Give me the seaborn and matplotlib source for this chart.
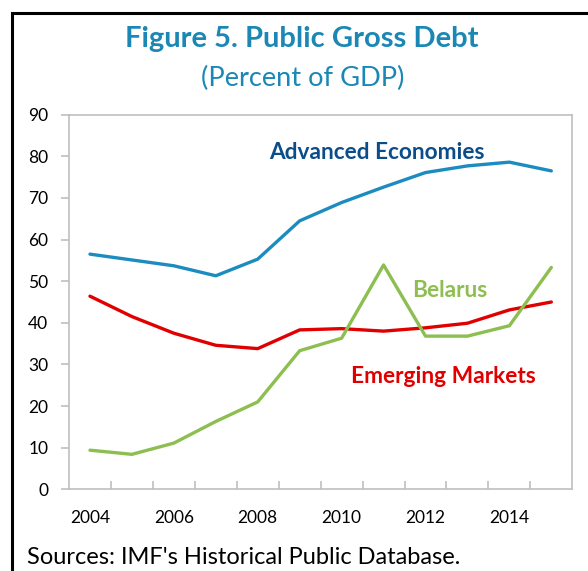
import matplotlib
matplotlib.use("Agg")
import matplotlib.pyplot as plt
import matplotlib.patches as mpatches
import seaborn as sns
import pandas as pd
import numpy as np

years = list(range(2004, 2016))
advanced = [56.5, 55.1, 53.7, 51.3, 55.3, 64.5, 68.9, 72.6, 76.1, 77.7, 78.6, 76.5]
emerging = [46.4, 41.5, 37.5, 34.6, 33.8, 38.3, 38.6, 38.0, 38.8, 39.9, 43.1, 45.0]
belarus = [9.4, 8.4, 11.1, 16.3, 21.0, 33.3, 36.3, 53.9, 36.8, 36.8, 39.3, 53.3]
series_names = ["Advanced Economies", "Emerging Markets", "Belarus"]
x_labels = ["2004", "2006", "2008", "2010", "2012", "2014"]
y_ticks = [0, 10, 20, 30, 40, 50, 60, 70, 80, 90]

line_colors = {"Advanced Economies": "#1c8cc0", "Emerging Markets": "#e00000", "Belarus": "#8dbe50"}
label_colors = {"Advanced Economies": "#0b4d8a", "Emerging Markets": "#e00000", "Belarus": "#8dbe50"}

df = pd.DataFrame({
    "year": years * 3,
    "value": advanced + emerging + belarus,
    "series": [s for s in series_names for _ in years],
})

sns.set_theme(style="white")
plt.rcParams["font.family"] = ["Lato", "DejaVu Sans"]

fig = plt.figure(figsize=(5.88, 5.71), dpi=100)
ax = fig.add_axes([69/588, 1-489.3/571, (572.3-69)/588, (489.3-114.7)/571])

sns.lineplot(data=df, x="year", y="value", hue="series", palette=line_colors,
             linewidth=2.4, ax=ax, legend=False, sort=False)

ax.set_xlim(2003.5, 2015.5)
ax.set_ylim(0, 90)
ax.set_xticks([int(v) for v in x_labels])
ax.set_xticklabels(x_labels)
ax.set_xticks(np.arange(2004.5, 2015.0, 1.0), minor=True)
ax.set_yticks(y_ticks)
ax.set_yticklabels([str(v) for v in y_ticks])
ax.set_xlabel("")
ax.set_ylabel("")

grey = "#bfbfbf"
for sp in ax.spines.values():
    sp.set_color(grey)
    sp.set_linewidth(1.2)
    sp.set_visible(True)
ax.tick_params(axis="x", which="major", length=0, pad=15, labelsize=12.5, labelcolor="#000000")
ax.tick_params(axis="x", which="minor", direction="in", length=6, width=1.2, color=grey, bottom=True)
ax.tick_params(axis="y", which="major", direction="out", length=6, width=1.2, color=grey, left=True,
               pad=9, labelsize=12.5, labelcolor="#000000")

# series labels
ax.text(2010.83, 80.9, "Advanced Economies", color=label_colors["Advanced Economies"],
        fontsize=16.3, fontweight="bold", ha="center", va="center")
ax.text(2012.58, 47.7, "Belarus", color=label_colors["Belarus"],
        fontsize=16.3, fontweight="bold", ha="center", va="center")
ax.text(2012.43, 27.0, "Emerging Markets", color=label_colors["Emerging Markets"],
        fontsize=16.4, fontweight="bold", ha="center", va="center")

# titles
fig.text(302/588, 1-39/571, "Figure 5. Public Gross Debt", color="#1a87b5",
         fontsize=21, fontweight="bold", ha="center", va="center")
fig.text(303/588, 1-78/571, "(Percent of GDP)", color="#1a87b5",
         fontsize=19.6, ha="center", va="center")
fig.text(27/588, 1-557/571, "Sources: IMF's Historical Public Database.", color="#000000",
         fontsize=17, ha="left", va="center")

# outer frame (cut off at right and bottom)
frame = mpatches.Rectangle((12/588, -0.1), 1.2, 1 - 13/571 + 0.1, transform=fig.transFigure,
                           fill=False, edgecolor="#000000", linewidth=2.2, clip_on=False)
fig.patches.append(frame)

fig.savefig("out.png", dpi=100, facecolor="white")
